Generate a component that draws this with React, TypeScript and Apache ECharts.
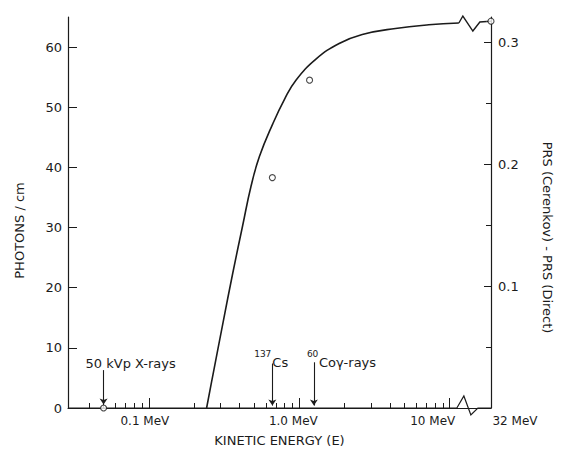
import React, { useEffect, useRef } from "react";
import * as echarts from "echarts";

// Cerenkov photon yield curve
const curveEnergyMeV = [0.242, 0.267, 0.31, 0.361, 0.42, 0.478, 0.543, 0.665, 0.8, 0.95, 1.29, 1.84, 2.62, 4.36, 7.26, 11.5];
const curvePhotons = [0, 5.6, 14.0, 22.4, 30.3, 36.9, 41.8, 47.2, 51.4, 54.5, 58.0, 60.6, 62.1, 63.1, 63.7, 64.0];
const tailEnergyMeV = [30, 32];
const tailPhotons = [64.25, 64.3];

// measured points (open circles)
const pointEnergyMeV = [0.05, 0.662, 1.17, 32];
const pointPhotons = [0, 38.3, 54.5, 64.3];

// radiation sources (arrows)
const sourceEnergyMeV = [0.05, 0.662, 1.25];
const sourceArrowTop = [6.3, 7.4, 7.6];
const sourceArrowBottom = [0.6, 0.4, 0.4];

// axes
const xMajorTicks = [0.1, 1, 10];
const xMinorTicks = [0.04, 0.05, 0.06, 0.07, 0.08, 0.09, 0.2, 0.3, 0.4, 0.5, 0.6, 0.7, 0.8, 0.9, 2, 3, 4, 5, 6, 7, 8, 9];
const xLabelValues = [0.1, 1, 10, 32];
const xLabelTexts = ["0.1 MeV", "1.0 MeV", "10 MeV", "32 MeV"];
const leftTickValues = [0, 10, 20, 30, 40, 50, 60];
const rightMajorTicks = [0.1, 0.2, 0.3];
const rightMinorTicks = [0.05, 0.15, 0.25];

const INK = "#1b1b1b";
const FONT = "DejaVu Sans";
const X_MIN = 0.029;
const X_MAX = 32;
const BREAKS = [{ start: 11.5, end: 30, gap: "6.6%" }];

export default function App() {
  const ref = useRef<HTMLDivElement>(null);

  useEffect(() => {
    if (!ref.current) return;
    const chart = echarts.init(ref.current, undefined, { renderer: "svg" });

    const labelPads = [[0, 8, 0, 0], [0, 12, 0, 0], [0, 34, 0, 0], [0, 0, 0, 48]];
    const rich: any = {};
    labelPads.forEach((p, i) => {
      rich["s" + i] = { padding: p, fontFamily: FONT, fontSize: 12, color: INK };
    });

    const baseX = {
      type: "log",
      logBase: 10,
      min: X_MIN,
      max: X_MAX,
      position: "bottom",
      breaks: BREAKS,
      breakArea: { show: false },
      splitLine: { show: false },
      axisLine: { show: true, lineStyle: { color: "rgba(0,0,0,0)", width: 1 } },
    };

    const option: any = {
      animation: false,
      backgroundColor: "#fff",
      grid: { left: 68, right: 70, top: 17, bottom: 47, containLabel: false },
      xAxis: [
        {
          ...baseX,
          name: "KINETIC ENERGY (E)",
          nameLocation: "middle",
          nameGap: 26,
          nameTextStyle: { fontFamily: FONT, fontSize: 13, color: INK },
          axisTick: { show: true, inside: true, length: 10, customValues: xMajorTicks, lineStyle: { color: INK, width: 1 } },
          axisLabel: {
            show: true,
            margin: 7,
            customValues: xLabelValues,
            formatter: (v: number) => {
              const i = xLabelValues.findIndex((t) => Math.abs(Math.log10(v) - Math.log10(t)) < 1e-4);
              return i < 0 ? "" : `{s${i}|${xLabelTexts[i]}}`;
            },
            rich,
          },
        },
        {
          ...baseX,
          axisTick: { show: true, inside: true, length: 5, customValues: xMinorTicks, lineStyle: { color: INK, width: 1 } },
          axisLabel: { show: false },
        },
        {
          type: "log",
          min: X_MIN,
          max: X_MAX,
          position: "top",
          axisLine: { show: true, lineStyle: { color: INK, width: 1.2 } },
          axisTick: { show: false },
          axisLabel: { show: false },
          splitLine: { show: false },
        },
      ],
      yAxis: [
        {
          type: "value",
          min: 0,
          max: 65,
          interval: 10,
          position: "left",
          name: "PHOTONS / cm",
          nameLocation: "middle",
          nameGap: 42,
          nameTextStyle: { fontFamily: FONT, fontSize: 13, color: INK, padding: [0, 36, 0, 0] },
          axisLine: { show: true, lineStyle: { color: INK, width: 1.2 } },
          axisTick: { show: true, inside: true, length: 9, customValues: leftTickValues, lineStyle: { color: INK } },
          axisLabel: { margin: 6, customValues: leftTickValues, fontFamily: FONT, fontSize: 13, color: INK },
          splitLine: { show: false },
        },
        {
          type: "value",
          min: 0,
          max: 0.321,
          position: "right",
          name: "PRS (Cerenkov) - PRS (Direct)",
          nameLocation: "middle",
          nameRotate: -90,
          nameGap: 50,
          nameTextStyle: { fontFamily: FONT, fontSize: 13, color: INK, padding: [0, 0, 0, 50] },
          axisLine: { show: true, lineStyle: { color: INK, width: 1.2 } },
          axisTick: { show: true, inside: true, length: 7, customValues: rightMajorTicks, lineStyle: { color: INK } },
          axisLabel: { margin: 7, customValues: rightMajorTicks, fontFamily: FONT, fontSize: 13, color: INK, formatter: (v: number) => v.toFixed(1) },
          splitLine: { show: false },
        },
        {
          type: "value",
          min: 0,
          max: 0.321,
          position: "right",
          axisLine: { show: false },
          axisTick: { show: true, inside: true, length: 5, customValues: rightMinorTicks, lineStyle: { color: INK } },
          axisLabel: { show: false },
          splitLine: { show: false },
        },
      ],
      series: [
        {
          type: "line",
          xAxisIndex: 0,
          yAxisIndex: 0,
          data: curveEnergyMeV.map((e, i) => [e, curvePhotons[i]]),
          smooth: 0.45,
          showSymbol: false,
          lineStyle: { color: INK, width: 1.6 },
          silent: true,
          z: 3,
        },
        {
          type: "line",
          xAxisIndex: 0,
          yAxisIndex: 0,
          data: tailEnergyMeV.map((e, i) => [e, tailPhotons[i]]),
          showSymbol: false,
          lineStyle: { color: INK, width: 1.4 },
          silent: true,
          z: 3,
        },
        {
          type: "scatter",
          xAxisIndex: 0,
          yAxisIndex: 0,
          data: pointEnergyMeV.map((e, i) => [e, pointPhotons[i]]),
          symbol: "circle",
          symbolSize: 6,
          itemStyle: { color: "#fff", borderColor: INK, borderWidth: 1.1 },
          silent: true,
          z: 5,
          markLine: {
            silent: true,
            symbol: ["none", "arrow"],
            symbolSize: 6,
            label: { show: false },
            lineStyle: { color: INK, width: 1.1, type: "solid" },
            data: sourceEnergyMeV.map((e, i) => [
              { coord: [e, sourceArrowTop[i]] },
              { coord: [e, sourceArrowBottom[i]] },
            ]),
          },
        },
      ],
    };

    chart.setOption(option);

    const px = (x: number, y: number) =>
      chart.convertToPixel({ xAxisIndex: 0, yAxisIndex: 0 }, [x, y]) as number[];

    const left = px(X_MIN, 0);
    const right = px(X_MAX, 0);
    const bs = px(BREAKS[0].start, 0);
    const y0 = left[1];
    const cs = px(curveEnergyMeV[curveEnergyMeV.length - 1], curvePhotons[curvePhotons.length - 1]);
    const ce = px(tailEnergyMeV[0], tailPhotons[0]);

    const txt = (text: string, x: number, y: number, align: string, size = 13) => ({
      type: "text",
      silent: true,
      z: 10,
      style: {
        text,
        x,
        y,
        textAlign: align,
        textVerticalAlign: "middle",
        font: `${size}px "${FONT}"`,
        fill: INK,
      },
    });

    const s0 = px(sourceEnergyMeV[0], 0);
    const s1 = px(sourceEnergyMeV[1], 0);
    const s2 = px(sourceEnergyMeV[2], 0);

    chart.setOption({
      graphic: [
        {
          type: "polyline",
          silent: true,
          z: 4,
          shape: {
            points: [
              [left[0], y0],
              [bs[0] - 2, y0],
              [bs[0] + 5, y0 - 12],
              [bs[0] + 12, y0 + 7],
              [bs[0] + 19, y0],
              [right[0], y0],
            ],
          },
          style: { stroke: INK, lineWidth: 1.2, fill: "none" },
        },
        {
          type: "polyline",
          silent: true,
          z: 4,
          shape: {
            points: [
              [cs[0], cs[1]],
              [cs[0] + 4, cs[1] - 7],
              [cs[0] + 14, cs[1] + 8],
              [cs[0] + 21, cs[1] - 1],
              [ce[0], ce[1]],
            ],
          },
          style: { stroke: INK, lineWidth: 1.4, fill: "none" },
        },
        txt("50 kVp X-rays", s0[0] - 18, y0 - 45, "left"),
        txt("137", s1[0] - 1, y0 - 54, "right", 9),
        txt("Cs", s1[0], y0 - 46, "left"),
        txt("60", s2[0] - 7, y0 - 54, "left", 9),
        txt("Coγ-rays", s2[0] + 5, y0 - 46, "left"),
      ],
    });

    return () => chart.dispose();
  }, []);

  return (
    <div
      ref={ref}
      style={{ position: "absolute", left: 0, top: 0, width: 562, height: 455, background: "#fff" }}
    />
  );
}
